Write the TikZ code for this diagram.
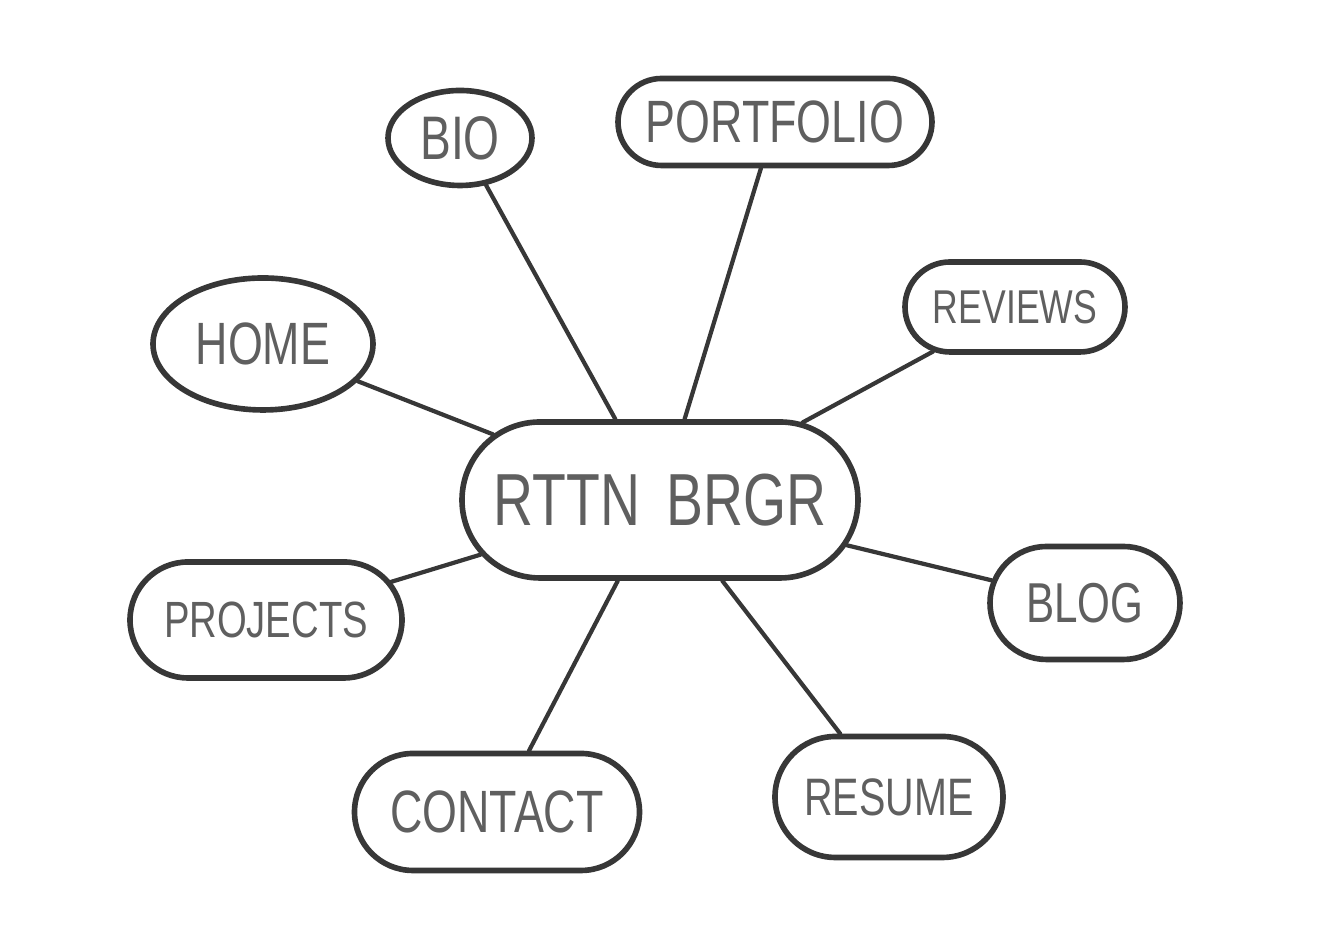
\documentclass[tikz,border=0pt]{standalone}
\usepackage{fontspec}
\usepackage{tikz}
\usetikzlibrary{shapes.geometric,shapes.misc}
\setmainfont{Liberation Sans}[FakeStretch=0.75]
\definecolor{pencil}{RGB}{55, 55, 55}
\definecolor{pencillight}{RGB}{95, 95, 95}
\tikzset{
  topic/.style={draw=pencil, line width=1.6pt, rounded rectangle, inner sep=0pt, text=pencillight},
  branch/.style={draw=pencil, line width=1.2pt, line cap=round}
}

\begin{document}
\begin{tikzpicture}
\useasboundingbox (0,0) rectangle (13.18,9.33);

% Center node
\node[topic, minimum width=3.96cm, minimum height=1.56cm, font=\fontsize{21}{24}\selectfont] (rttn) at (6.60,4.33) {RTTN\hspace{0.35em}BRGR};

% Pages around it
\node[topic, ellipse, minimum width=1.44cm, minimum height=0.95cm, font=\fontsize{17.5}{20}\selectfont] (bio) at (4.60,7.95) {BIO};
\node[topic, minimum width=3.14cm, minimum height=0.87cm, font=\fontsize{17}{20}\selectfont] (portfolio) at (7.75,8.11) {PORTFOLIO};
\node[topic, minimum width=2.20cm, minimum height=0.90cm, font=\fontsize{13.5}{16}\selectfont] (reviews) at (10.15,6.26) {REVIEWS};
\node[topic, ellipse, minimum width=2.20cm, minimum height=1.32cm, font=\fontsize{17}{20}\selectfont] (home) at (2.63,5.89) {HOME};
\node[topic, minimum width=2.72cm, minimum height=1.16cm, font=\fontsize{14.5}{17}\selectfont] (projects) at (2.66,3.13) {PROJECTS};
\node[topic, minimum width=1.90cm, minimum height=1.13cm, font=\fontsize{16}{19}\selectfont] (blog) at (10.85,3.30) {BLOG};
\node[topic, minimum width=2.28cm, minimum height=1.21cm, font=\fontsize{15}{18}\selectfont] (resume) at (8.89,1.36) {RESUME};
\node[topic, minimum width=2.85cm, minimum height=1.17cm, font=\fontsize{17}{20}\selectfont] (contact) at (4.97,1.21) {CONTACT};

% Branches
\foreach \page in {bio,portfolio,reviews,home,projects,blog,resume,contact} {
  \draw[branch] (rttn) -- (\page);
}
\end{tikzpicture}
\end{document}
